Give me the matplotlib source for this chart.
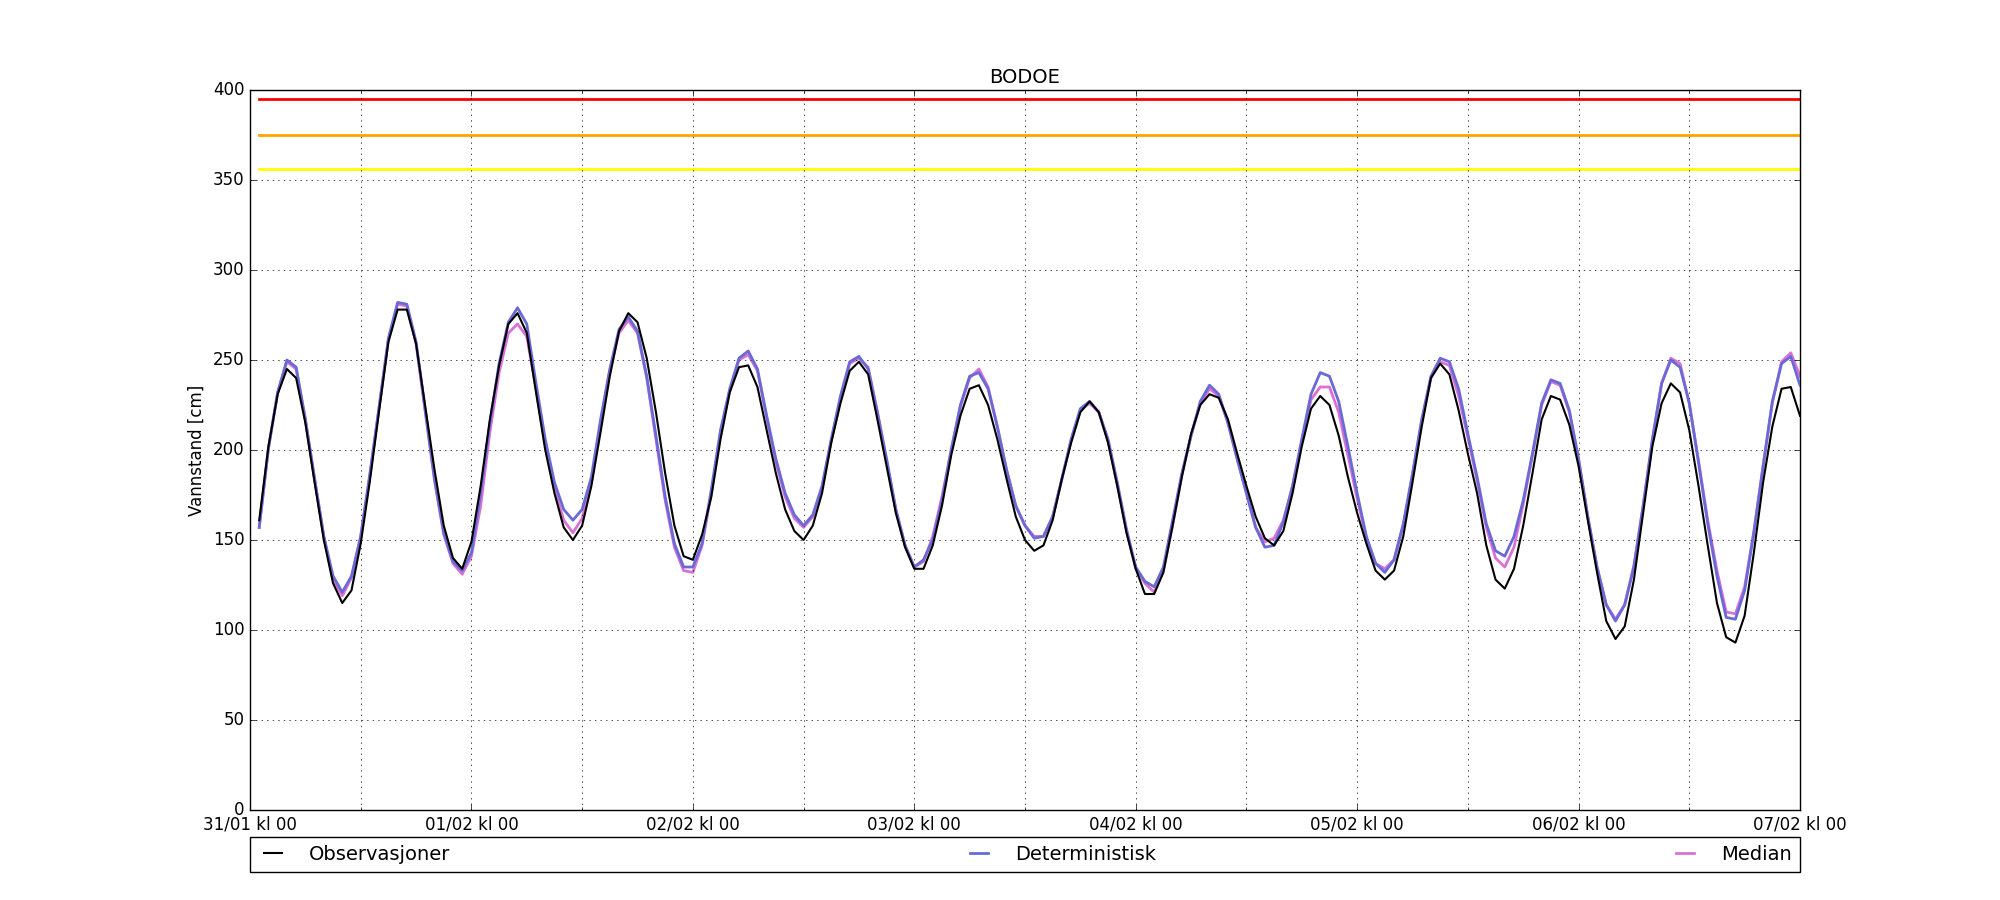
import matplotlib
matplotlib.use("Agg")
import matplotlib.pyplot as plt
import matplotlib.dates as mdates
import pandas as pd
import datetime as dt

plt.style.use("classic")
plt.rcParams["font.family"] = ["DejaVu Sans"]

# ---------------- data ----------------
station = "BODOE"
start_time = "2016-01-31 01:00"   # hourly values, 31/01 kl 01 .. 07/02 kl 00
x_start = "2016-01-31 00:00"
x_end = "2016-02-07 00:00"

observasjoner = [
    161, 202, 231, 245, 240, 215, 182, 150, 126, 115, 122, 148,
    183, 222, 260, 278, 278, 259, 224, 189, 158, 140, 134, 149,
    180, 217, 247, 270, 276, 265, 232, 200, 176, 157, 150, 158,
    180, 210, 241, 266, 276, 271, 251, 221, 187, 158, 141, 139,
    153, 174, 206, 232, 246, 247, 235, 211, 187, 167, 155, 150,
    158, 176, 204, 226, 244, 249, 242, 217, 191, 165, 146, 134,
    134, 147, 169, 197, 219, 234, 236, 225, 206, 184, 163, 150,
    144, 147, 161, 184, 204, 221, 227, 221, 204, 180, 154, 134,
    120, 120, 132, 158, 185, 209, 225, 231, 229, 217, 198, 180,
    163, 151, 147, 155, 176, 202, 223, 230, 225, 208, 185, 165,
    148, 133, 128, 133, 152, 182, 213, 240, 248, 242, 222, 198,
    176, 147, 128, 123, 134, 158, 187, 217, 230, 228, 214, 191,
    161, 132, 105, 95, 102, 128, 165, 202, 226, 237, 232, 211,
    180, 147, 115, 96, 93, 108, 143, 182, 213, 234, 235, 219,
]

deterministisk = [
    157, 201, 232, 250, 246, 217, 184, 152, 130, 121, 130, 152,
    187, 224, 262, 282, 281, 260, 222, 184, 154, 138, 133, 143,
    176, 215, 248, 271, 279, 270, 237, 206, 182, 167, 161, 167,
    185, 217, 245, 267, 274, 266, 241, 208, 174, 148, 135, 135,
    148, 178, 211, 234, 251, 255, 245, 219, 195, 176, 164, 158,
    164, 180, 206, 230, 249, 252, 245, 221, 195, 167, 147, 135,
    139, 150, 172, 200, 225, 241, 243, 234, 213, 189, 169, 158,
    151, 152, 163, 184, 206, 223, 227, 221, 206, 182, 156, 135,
    127, 124, 135, 161, 187, 208, 227, 236, 231, 215, 195, 176,
    157, 146, 147, 160, 180, 206, 231, 243, 241, 227, 202, 176,
    152, 137, 132, 139, 159, 187, 217, 241, 251, 249, 234, 209,
    185, 159, 144, 141, 152, 172, 198, 226, 239, 237, 222, 195,
    163, 135, 114, 105, 114, 135, 169, 206, 237, 250, 246, 226,
    193, 159, 130, 107, 106, 122, 154, 191, 227, 248, 252, 236,
]

median = [
    157, 201, 232, 249, 245, 217, 184, 152, 128, 119, 129, 152,
    186, 224, 261, 281, 280, 259, 221, 183, 153, 137, 131, 141,
    169, 210, 243, 265, 270, 263, 234, 203, 179, 161, 154, 162,
    182, 215, 244, 265, 272, 265, 240, 206, 172, 146, 133, 132,
    147, 176, 210, 233, 250, 253, 244, 218, 193, 174, 162, 157,
    163, 179, 205, 229, 248, 251, 246, 221, 194, 167, 147, 135,
    138, 152, 174, 200, 224, 240, 245, 235, 213, 189, 169, 158,
    152, 152, 163, 184, 205, 222, 226, 221, 205, 181, 155, 134,
    126, 121, 133, 158, 186, 208, 226, 234, 230, 215, 195, 176,
    157, 149, 151, 161, 180, 205, 228, 235, 235, 221, 197, 173,
    151, 137, 134, 139, 158, 186, 216, 240, 249, 247, 230, 207,
    183, 157, 140, 135, 146, 170, 197, 225, 238, 236, 221, 195,
    163, 135, 114, 106, 114, 136, 169, 205, 237, 251, 248, 226,
    194, 161, 133, 110, 109, 124, 155, 191, 226, 249, 254, 241,
]

threshold_levels = [395, 375, 356]
threshold_colors = ["red", "orange", "yellow"]

series_labels = ["Observasjoner", "Deterministisk", "Median"]
series_colors = ["black", "#6a6ad6", "#da70d6"]

yticks = [0, 50, 100, 150, 200, 250, 300, 350, 400]

# ---------------- plot ----------------
times = pd.date_range(start_time, periods=len(observasjoner), freq="h")

fig = plt.figure(figsize=(20, 9), dpi=100, facecolor="white")
ax = fig.add_subplot(111)
fig.subplots_adjust(left=0.125, right=0.9, bottom=0.1, top=0.9)
ax.set_facecolor("white")

for lev, col in zip(threshold_levels, threshold_colors):
    ax.plot([times[0], times[-1]], [lev, lev], color=col, lw=2, zorder=1)

ax.plot(times, median, color=series_colors[2], lw=2, label=series_labels[2], zorder=2)
ax.plot(times, deterministisk, color=series_colors[1], lw=2, label=series_labels[1], zorder=3)
ax.plot(times, observasjoner, color=series_colors[0], lw=1.5, label=series_labels[0], zorder=4)

ax.set_xlim(pd.Timestamp(x_start), pd.Timestamp(x_end))
ax.set_ylim(0, 400)
ax.set_yticks(yticks)

ax.xaxis.set_major_locator(mdates.DayLocator())
ax.xaxis.set_major_formatter(mdates.DateFormatter("%d/%m kl %H"))
ax.xaxis.set_minor_locator(mdates.HourLocator(byhour=[12]))
ax.grid(True, which="both", color="black", linestyle=":", linewidth=0.5)

ax.set_title(station, fontsize=14)
ax.set_ylabel("Vannstand [cm]", fontsize=12)
ax.tick_params(labelsize=12)

handles, labels = ax.get_legend_handles_labels()
order = [2, 1, 0]
leg = ax.legend([handles[i] for i in order], [labels[i] for i in order],
                loc="upper left", bbox_to_anchor=(0, -0.0375, 1, 0),
                ncol=3, mode="expand", borderaxespad=0, fontsize=14,
                handlelength=1.55, handletextpad=1.1, fancybox=False,
                shadow=False, frameon=True)
leg.get_frame().set_edgecolor("black")

fig.savefig("out.png", dpi=100, facecolor="white")
